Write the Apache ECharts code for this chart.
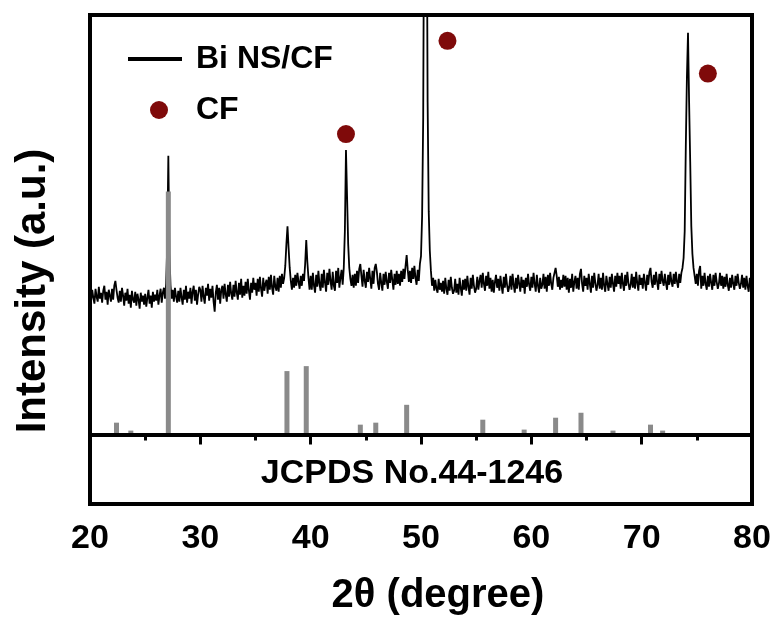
<!DOCTYPE html>
<html>
<head>
<meta charset="utf-8">
<script src="https://cdn.jsdelivr.net/npm/echarts@6/dist/echarts.min.js"></script>
<style>
  html, body { margin: 0; padding: 0; background: #fff; }
  #chart { width: 777px; height: 621px; }
</style>
</head>
<body>
<div id="chart"></div>
<script>
// scan of Bi NS/CF, one count every 0.1 degree from 20 to 80
var scanStart = 20;
var scanStep = 0.1;
var counts = [
  144,135,146,138,132,147,139,134,149,137,
  143,133,145,150,136,144,131,146,140,134,
  147,136,150,155,146,138,133,145,134,148,
  140,130,143,135,147,132,141,128,145,136,
  133,144,130,142,136,127,143,134,140,131,
  142,129,138,146,132,140,128,144,134,141,
  135,146,131,140,147,133,143,148,137,152,
  190,281,182,150,137,146,134,148,139,133,
  145,134,148,138,131,146,136,150,133,144,
  137,148,132,144,150,135,146,131,141,149,
  146,134,150,139,132,148,140,152,135,147,
  138,150,134,124,143,151,136,148,132,146,
  150,137,152,141,134,151,139,154,142,136,
  151,139,155,143,136,153,141,157,138,150,
  140,154,142,157,145,136,153,143,158,146,
  153,140,157,144,159,147,139,158,145,152,
  156,142,159,146,161,148,141,160,149,145,
  158,144,160,148,162,152,158,170,192,210,
  188,168,155,146,158,148,161,150,163,154,
  147,160,150,162,155,172,196,174,158,146,
  160,146,163,150,143,161,149,165,152,145,
  162,148,166,153,144,163,151,167,155,146,
  164,150,145,165,153,168,148,158,166,151,
  168,205,287,240,192,168,157,150,161,148,
  162,150,165,153,167,172,160,149,166,155,
  148,164,154,168,157,147,165,152,168,172,
  164,152,146,163,153,145,162,151,164,154,
  147,163,153,166,156,146,162,151,165,152,
  162,150,165,154,167,157,170,181,166,154,
  165,153,168,157,170,158,151,166,155,172,
  180,220,320,600,720,600,335,225,185,165,
  150,158,145,156,147,143,157,146,153,144,
  155,142,158,147,141,156,145,159,148,142,
  145,157,143,152,141,158,148,140,156,146,
  157,145,160,149,141,158,147,161,150,143,
  147,159,146,155,161,148,163,152,145,160,
  150,164,147,158,144,156,143,154,161,148,
  157,145,160,150,142,159,148,162,151,144,
  149,160,146,162,151,143,158,147,161,152,
  144,159,148,156,142,158,149,162,151,145,
  159,148,163,152,144,161,150,143,158,147,
  151,162,147,159,144,161,150,163,152,146,
  158,163,168,160,149,159,146,156,148,161,
  149,160,146,158,143,157,148,162,144,154,
  160,147,158,146,162,167,152,144,160,150,
  158,146,162,152,143,160,148,163,153,145,
  151,162,147,158,146,163,150,144,160,152,
  145,159,148,162,152,144,160,149,163,152,
  160,147,163,152,145,161,150,164,153,146,
  151,162,148,159,147,164,153,145,161,151,
  158,147,162,153,145,161,151,164,168,154,
  148,161,151,164,154,146,162,152,165,155,
  150,162,153,146,161,151,164,154,149,162,
  152,164,154,148,162,153,163,168,178,205,
  290,360,405,335,275,210,182,168,160,152,
  162,150,165,170,147,160,150,163,152,146,
  160,149,162,153,146,161,150,163,154,147,
  152,163,150,160,147,159,149,162,151,145,
  158,148,161,152,146,160,150,162,153,147,
  152,161,148,158,146,160,150,144,158,149,
  152
];

// CF substrate peaks (marker positions)
var cfPos = [43.2, 52.4, 76.0];
var cfMark = [303, 397, 364];

// JCPDS 44-1246 reference lines
var refPos = [22.4, 23.7, 27.1, 37.85, 39.6, 44.5, 45.9, 48.7, 55.6, 59.35, 62.2, 64.5, 67.4, 70.8, 71.9];
var refInt = [12, 4, 245, 64, 69, 10, 12, 30, 15, 5, 17, 22, 4, 10, 4];

var xTicks = [20, 30, 40, 50, 60, 70, 80];

var FONT = 'Liberation Sans, Arial, sans-serif';

var lineData = counts.map(function (c, i) {
    return [scanStart + i * scanStep, c];
});
var cfData = cfPos.map(function (x, i) { return [x, cfMark[i]]; });
var refData = refPos.map(function (x, i) { return [x, refInt[i]]; });

var chart = echarts.init(document.getElementById('chart'), null, {renderer: 'canvas'});

var option = {
    animation: false,
    backgroundColor: '#fff',
    grid: {
        left: 90, right: 25, top: 15, bottom: 113,
        show: true,
        borderColor: '#000',
        borderWidth: 4,
        backgroundColor: 'transparent'
    },
    legend: [
        {
            data: [{name: 'Bi NS/CF', icon: 'rect'}],
            left: 128, top: 43,
            padding: 0,
            itemWidth: 54, itemHeight: 4,
            selectedMode: false,
            textStyle: {fontFamily: FONT, fontWeight: 'bold', fontSize: 32, color: '#000', padding: [0, 0, 0, 9]}
        },
        {
            data: [{name: 'CF', icon: 'circle'}],
            left: 150, top: 94,
            padding: 0,
            itemWidth: 18, itemHeight: 18,
            selectedMode: false,
            textStyle: {fontFamily: FONT, fontWeight: 'bold', fontSize: 32, color: '#000', padding: [0, 0, 0, 23]}
        }
    ],
    xAxis: {
        type: 'value',
        min: xTicks[0],
        max: xTicks[xTicks.length - 1],
        interval: 10,
        name: '2θ (degree)',
        nameLocation: 'middle',
        nameGap: 72,
        nameTextStyle: {fontFamily: FONT, fontWeight: 'bold', fontSize: 40, color: '#000', padding: [0, 0, 0, 34]},
        axisLine: {show: true, lineStyle: {color: '#000', width: 4}},
        axisTick: {show: true, inside: false, length: 10, lineStyle: {color: '#000', width: 3}},
        minorTick: {show: true, splitNumber: 2, length: 6, lineStyle: {color: '#000', width: 3}},
        axisLabel: {fontFamily: FONT, fontWeight: 'bold', fontSize: 34, color: '#000', margin: 18},
        splitLine: {show: false},
        minorSplitLine: {show: false}
    },
    yAxis: {
        type: 'value',
        min: -70,
        max: 423,
        show: false
    },
    graphic: [
        {
            type: 'text',
            x: 33, y: 291,
            rotation: Math.PI / 2,
            style: {
                text: 'Intensity (a.u.)',
                font: 'bold 42px ' + FONT,
                fill: '#000',
                textAlign: 'center',
                textVerticalAlign: 'middle'
            }
        },
        {
            type: 'text',
            x: 412, y: 474,
            style: {
                text: 'JCPDS No.44-1246',
                font: 'bold 34px ' + FONT,
                fill: '#000',
                textAlign: 'center',
                textVerticalAlign: 'middle'
            }
        }
    ],
    series: [
        {
            name: 'Bi NS/CF',
            type: 'line',
            data: lineData,
            showSymbol: false,
            symbol: 'none',
            clip: true,
            z: 2,
            color: '#000',
            lineStyle: {color: '#000', width: 1.8}
        },
        {
            name: 'JCPDS',
            type: 'bar',
            data: refData,
            barWidth: 5,
            z: 3,
            itemStyle: {color: '#8a8a8a'},
            markLine: {
                silent: true,
                symbol: 'none',
                label: {show: false},
                lineStyle: {color: '#000', width: 4, type: 'solid'},
                data: [{yAxis: 0}]
            }
        },
        {
            name: 'CF',
            type: 'scatter',
            data: cfData,
            symbol: 'circle',
            symbolSize: 18,
            z: 4,
            itemStyle: {color: '#7f0a0a', opacity: 1}
        }
    ]
};

chart.setOption(option);
</script>
</body>
</html>
